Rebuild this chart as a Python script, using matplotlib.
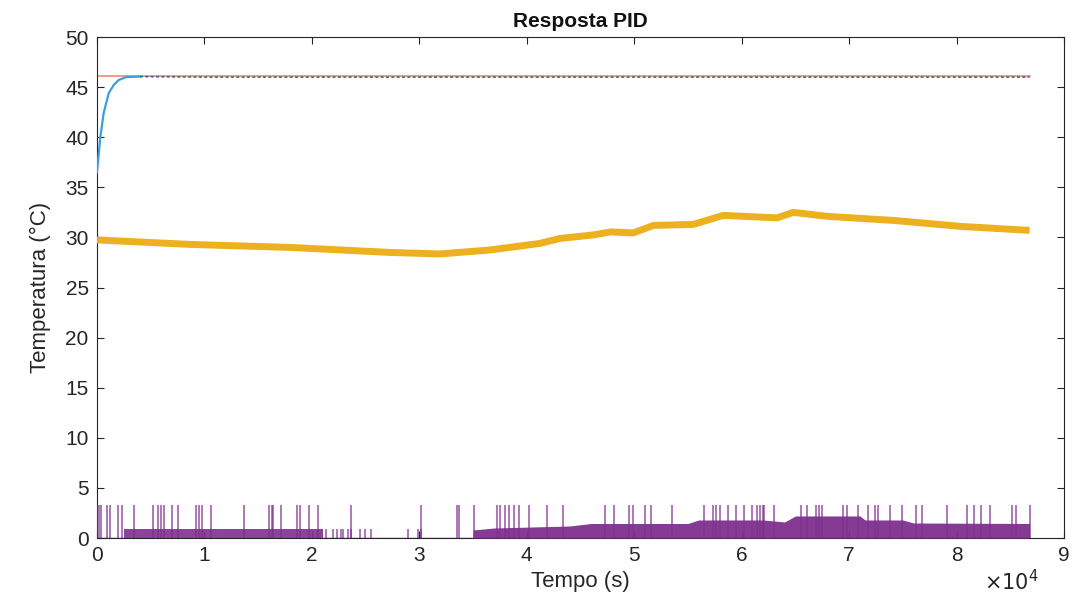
import numpy as np
import matplotlib
matplotlib.use('Agg')
import matplotlib.pyplot as plt

# setpoint and measured temperature (t in units of 1e4 s)
setpoint = 46.1
t_end = 8.68
resp_t = [0, 0.031, 0.062, 0.109, 0.155, 0.2, 0.27, 0.40, 1.0, 3.0, 5.0, 7.0, 8.68]
resp_v = [36.5, 40.0, 42.4, 44.4, 45.2, 45.7, 46.0, 46.05, 46.0, 46.0, 46.0, 46.0, 46.0]

# ambient temperature (orange band)
amb_t = [0, 0.87, 1.8, 2.73, 3.19, 3.66, 4.12, 4.31, 4.62, 4.78, 4.99, 5.18, 5.55, 5.83,
         6.33, 6.48, 6.8, 7.41, 8.04, 8.68]
amb_v = [29.75, 29.3, 29.0, 28.5, 28.35, 28.75, 29.4, 29.9, 30.25, 30.55, 30.45, 31.2, 31.3, 32.2,
         31.95, 32.5, 32.1, 31.7, 31.1, 30.7]

# control signal: dense band envelope and single spikes
band1_t = [0.25, 2.1]
band1_v = [0.85, 0.85]
band2_t = [3.5, 3.7, 4.4, 4.6, 5.5, 5.6, 6.2, 6.4, 6.5, 7.1, 7.15, 7.5, 7.6, 8.68]
band2_v = [0.8, 1.0, 1.2, 1.45, 1.45, 1.8, 1.8, 1.6, 2.2, 2.2, 1.8, 1.8, 1.5, 1.45]
spike_h = 3.3
spikes = [0.0, 0.02, 0.04, 0.096, 0.12, 0.2, 0.236, 0.34, 0.52, 0.57, 0.60, 0.62, 0.70, 0.75,
          0.92, 0.95, 0.98, 1.06, 1.37, 1.60, 1.63, 1.64, 1.71, 1.86, 1.89, 1.97, 2.06, 2.36,
          3.02, 3.35, 3.37, 3.51, 3.72, 3.75, 3.80, 3.83, 3.88, 3.93, 4.02, 4.19, 4.34,
          4.73, 4.81, 4.95, 4.99, 5.10, 5.16, 5.35, 5.65, 5.73, 5.76, 5.80, 5.87, 5.95, 6.02,
          6.10, 6.14, 6.17, 6.20, 6.21, 6.30, 6.55, 6.61, 6.69, 6.72, 6.75, 6.94, 6.98, 7.08,
          7.18, 7.24, 7.27, 7.38, 7.49, 7.62, 7.68, 7.91, 8.10, 8.16, 8.23, 8.31, 8.52, 8.55, 8.68]
short_h = 0.9
short_spikes = [2.13, 2.2, 2.23, 2.27, 2.29, 2.34, 2.36, 2.45, 2.49, 2.55, 2.89, 2.99, 3.02]

plt.rcParams['font.family'] = ['Liberation Sans', 'DejaVu Sans']

fig = plt.figure(figsize=(10.73, 6.01), dpi=100)
ax = fig.add_axes([0.0904, 0.1048, 0.9012, 0.8336])

blue = '#3b9ee0'
red = '#f08a75'
orange = '#EDB120'
purple = '#7E2F8E'

ax.plot([0, t_end], [setpoint, setpoint], color=red, lw=1.2, zorder=2)
ax.plot(resp_t[:8], resp_v[:8], color=blue, lw=1.6, zorder=3)
ax.plot(resp_t[7:], resp_v[7:], color='#3d5f86', lw=1.1, ls=(0, (2, 1.5)), zorder=3)

ax.plot(amb_t, amb_v, color=orange, lw=5, solid_capstyle='butt', zorder=3)

ax.plot([0, t_end], [0, 0], color=purple, lw=1, zorder=3)
ax.fill_between(band1_t, 0, band1_v, color=purple, alpha=0.9, lw=0, zorder=3)
ax.fill_between(band2_t, 0, band2_v, color=purple, alpha=0.95, lw=0, zorder=3)
ax.vlines(spikes, 0, spike_h, color=purple, lw=1.3, alpha=0.7, zorder=3)
ax.vlines(short_spikes, 0, short_h, color=purple, lw=1.3, alpha=0.7, zorder=3)

ax.set_xlim(0, 9)
ax.set_ylim(0, 50)
ax.set_xticks(range(0, 10))
ax.set_yticks(range(0, 51, 5))
ax.tick_params(direction='in', top=True, right=True, length=5, width=0.8,
               labelsize=15, colors='#262626', pad=6)
for s in ax.spines.values():
    s.set_color('#262626')
    s.set_linewidth(0.8)

ax.set_title('Resposta PID', fontsize=15, fontweight='bold', color='#111111', pad=7)
ax.set_xlabel('Tempo (s)', fontsize=16, color='#262626', labelpad=4)
ax.set_ylabel('Temperatura (°C)', fontsize=16, color='#262626', labelpad=10)
fig.text(0.917, 0.012, r'$\times10^{4}$', fontsize=15, color='#262626', ha='left', va='bottom')

fig.savefig('out.png', dpi=100)
